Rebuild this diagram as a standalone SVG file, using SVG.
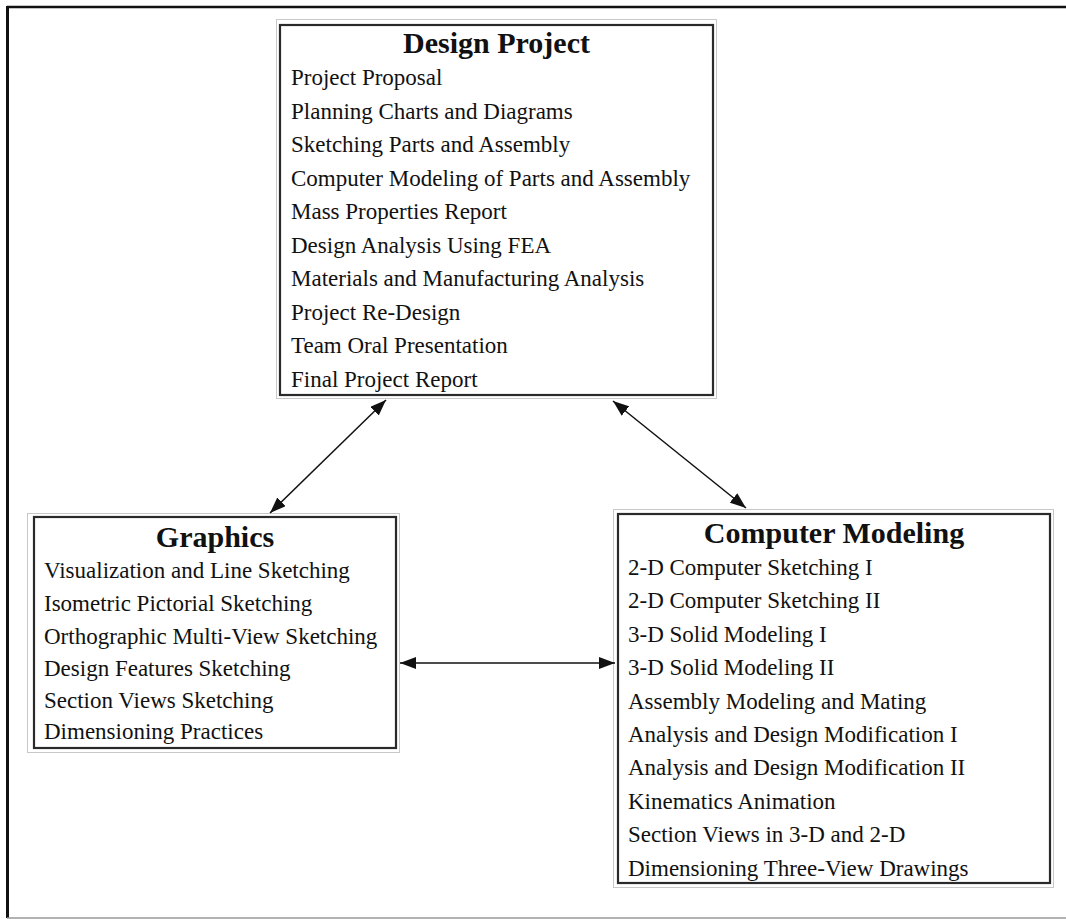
<svg xmlns="http://www.w3.org/2000/svg" width="1066" height="919" viewBox="0 0 1066 919">
  <style>
    .title { font-family: "Liberation Serif", "Times New Roman", serif; font-weight: bold; font-size: 30px; fill: #111; text-anchor: middle; }
    .item { font-family: "Liberation Serif", "Times New Roman", serif; font-size: 23px; fill: #111; }
    .box { fill: #fff; stroke: #2a2a2a; stroke-width: 2.2; }
    .halo { fill: none; stroke: #c8c8c8; stroke-width: 1; }
    .conn { stroke: #111; stroke-width: 1.5; fill: none; marker-start: url(#arrow); marker-end: url(#arrow); }
  </style>
  <defs>
    <marker id="arrow" viewBox="0 0 16 12" refX="16" refY="6" markerWidth="16" markerHeight="12" markerUnits="userSpaceOnUse" orient="auto-start-reverse">
      <path d="M0,0 L16,6 L0,12 z" fill="#111"/>
    </marker>
  </defs>
  <rect width="1066" height="919" fill="#fff"/>
  <g id="frame">
    <line x1="7" y1="7" x2="1066" y2="7" stroke="#111" stroke-width="2.5"/>
    <line x1="7.5" y1="6" x2="7.5" y2="918" stroke="#111" stroke-width="3"/>
    <line x1="7" y1="918" x2="1066" y2="918" stroke="#999" stroke-width="1.5"/>
  </g>
  <g id="design-project">
    <rect class="halo" x="276.5" y="19.5" width="440" height="379"/>
    <rect class="box" x="280" y="25" width="433" height="370"/>
    <text class="title" x="496.5" y="53">Design Project</text>
    <text class="item" x="291" y="85">Project Proposal</text>
    <text class="item" x="291" y="118.5">Planning Charts and Diagrams</text>
    <text class="item" x="291" y="152">Sketching Parts and Assembly</text>
    <text class="item" x="291" y="185.5">Computer Modeling of Parts and Assembly</text>
    <text class="item" x="291" y="219">Mass Properties Report</text>
    <text class="item" x="291" y="252.5">Design Analysis Using FEA</text>
    <text class="item" x="291" y="286">Materials and Manufacturing Analysis</text>
    <text class="item" x="291" y="319.5">Project Re-Design</text>
    <text class="item" x="291" y="353">Team Oral Presentation</text>
    <text class="item" x="291" y="386.5">Final Project Report</text>
  </g>
  <g id="graphics">
    <rect class="halo" x="27.5" y="513.5" width="372" height="239"/>
    <rect class="box" x="34" y="517" width="362" height="231"/>
    <text class="title" x="215" y="547">Graphics</text>
    <text class="item" x="44" y="578">Visualization and Line Sketching</text>
    <text class="item" x="44" y="611">Isometric Pictorial Sketching</text>
    <text class="item" x="44" y="644">Orthographic Multi-View Sketching</text>
    <text class="item" x="44" y="675.5">Design Features Sketching</text>
    <text class="item" x="44" y="708">Section Views Sketching</text>
    <text class="item" x="44" y="739">Dimensioning Practices</text>
  </g>
  <g id="computer-modeling">
    <rect class="halo" x="613.5" y="509.5" width="440" height="378"/>
    <rect class="box" x="618" y="514" width="432" height="369"/>
    <text class="title" x="834" y="543">Computer Modeling</text>
    <text class="item" x="628" y="575">2-D Computer Sketching I</text>
    <text class="item" x="628" y="608.4">2-D Computer Sketching II</text>
    <text class="item" x="628" y="641.8">3-D Solid Modeling I</text>
    <text class="item" x="628" y="675.2">3-D Solid Modeling II</text>
    <text class="item" x="628" y="708.6">Assembly Modeling and Mating</text>
    <text class="item" x="628" y="742">Analysis and Design Modification I</text>
    <text class="item" x="628" y="775.4">Analysis and Design Modification II</text>
    <text class="item" x="628" y="808.8">Kinematics Animation</text>
    <text class="item" x="628" y="842.2">Section Views in 3-D and 2-D</text>
    <text class="item" x="628" y="875.6">Dimensioning Three-View Drawings</text>
  </g>
  <g id="connectors">
    <line class="conn" x1="386" y1="400" x2="270" y2="513"/>
    <line class="conn" x1="613" y1="401" x2="746" y2="508"/>
    <line class="conn" x1="400" y1="663" x2="615" y2="663"/>
  </g>
</svg>
